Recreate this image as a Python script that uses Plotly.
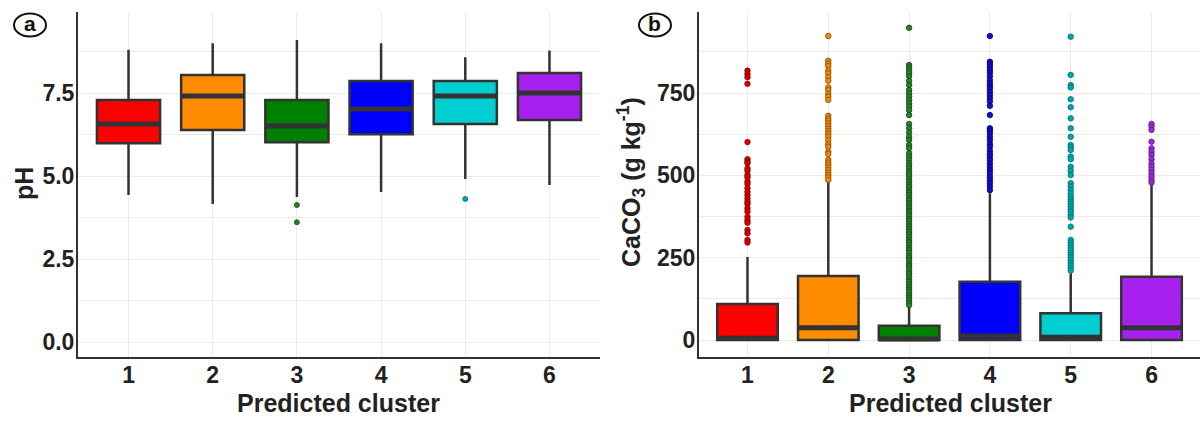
import plotly.graph_objects as go

W, H = 1200, 421

clusters = [1, 2, 3, 4, 5, 6]
colors = ['#FF0000', '#FF8C00', '#008000', '#0000FF', '#00CED1', '#A820F0']
out_edge = ['#8B0000', '#8B4500', '#0B4D0B', '#00008B', '#006B6B', '#5A1A8A']
out_fill = ['#D40000', '#F08A00', '#2E7D2E', '#1010C0', '#00A8AC', '#9A2AD8']

# Panel a: pH
ph_lo = [4.43, 4.16, 4.37, 4.52, 4.91, 4.73]
ph_q1 = [5.99, 6.39, 6.02, 6.26, 6.57, 6.69]
ph_med = [6.57, 7.41, 6.51, 7.02, 7.41, 7.50]
ph_q3 = [7.29, 8.04, 7.29, 7.86, 7.86, 8.10]
ph_hi = [8.80, 9.00, 9.10, 9.00, 8.58, 8.78]
ph_out = {3: [4.13, 3.61], 5: [4.31]}

# Panel b: CaCO3
ca_lo = [0, 0, 0, 0, 0, 0]
ca_q1 = [0, 0, 0, 0, 0, 0]
ca_med = [5, 37, 3, 12, 8, 37]
ca_q3 = [109, 194, 43, 177, 81, 192]
ca_hi = [252, 480, 101, 446, 203, 476]
ca_out1 = [818, 808, 798, 778, 601, 549, 542, 537, 521, 514, 501, 494, 481, 474,
           461, 450, 440, 430, 420, 413, 400, 390, 374, 364, 356, 334, 324, 304, 296]
ca_out2 = [923, 848, 840, 832, 818, 810, 798, 787, 767, 759, 747, 739, 729, 681,
           673, 666, 658, 650, 642, 634, 626, 618, 607, 595, 587, 572, 565, 547,
           539, 532, 524, 516, 508, 501, 494, 486]
ca_out3 = [948, 835, 828, 820, 810, 801, 787, 774, 759, 749, 739, 729, 719, 709,
           698, 683, 656, 643, 630, 617, 607, 592, 582, 567, 557, 547, 536, 529,
           521, 512, 505, 497, 488, 481, 472, 465, 456, 449, 441, 432, 425, 416,
           409, 401, 392, 385, 377, 368, 361, 352, 345, 337, 328, 321, 313, 304,
           297, 289, 280, 273, 265, 256, 249, 241, 232, 225, 217, 208, 201, 193,
           184, 177, 169, 160, 153, 145, 136, 129, 121, 113, 106]
ca_out4 = [923, 845, 838, 830, 820, 812, 801, 789, 779, 771, 764, 754, 744, 734,
           724, 711, 683, 643, 636, 628, 617, 607, 595, 587, 575, 565, 557, 547,
           536, 526, 516, 506, 496, 486, 476, 466, 455]
ca_out5 = [921, 805, 774, 767, 731, 707, 673, 643, 617, 592, 585, 577, 557, 549,
           526, 514, 501, 476, 466, 455, 445, 435, 427, 420, 413, 405, 397, 390,
           380, 372, 344, 304, 296, 288, 281, 273, 265, 258, 251, 243, 235, 227,
           219, 211]
ca_out6 = [656, 648, 638, 602, 582, 572, 562, 549, 536, 526, 516, 506, 496, 486, 478]
ca_out = {1: ca_out1, 2: ca_out2, 3: ca_out3, 4: ca_out4, 5: ca_out5, 6: ca_out6}

ph_ticks = [0, 2.5, 5, 7.5]
ph_ticktext = ['0.0', '2.5', '5.0', '7.5']
ca_ticks = [0, 250, 500, 750]
ca_ticktext = ['0', '250', '500', '750']

BOX_W = 0.75
LINE = '#333333'

fig = go.Figure()


def add_panel(xa, ya, lo, q1, med, q3, hi, outs, out_size):
    for i, c in enumerate(clusters):
        fig.add_trace(go.Box(
            x=[c], lowerfence=[lo[i]], q1=[q1[i]], median=[med[i]], q3=[q3[i]],
            upperfence=[hi[i]], width=BOX_W, whiskerwidth=0,
            fillcolor=colors[i], line=dict(color=LINE, width=2.5),
            boxpoints=False, hoverinfo='skip', showlegend=False,
            xaxis=xa, yaxis=ya))
        fig.add_trace(go.Scatter(
            x=[c - BOX_W / 2, c + BOX_W / 2], y=[med[i], med[i]], mode='lines',
            line=dict(color=LINE, width=5), showlegend=False, hoverinfo='skip',
            xaxis=xa, yaxis=ya))
        if c in outs:
            vals = outs[c]
            fig.add_trace(go.Scatter(
                x=[c] * len(vals), y=vals, mode='markers',
                marker=dict(size=out_size, color=out_fill[i],
                            line=dict(color=out_edge[i], width=0.8)),
                showlegend=False, hoverinfo='skip', xaxis=xa, yaxis=ya))


add_panel('x', 'y', ph_lo, ph_q1, ph_med, ph_q3, ph_hi, ph_out, 5)
add_panel('x2', 'y2', ca_lo, ca_q1, ca_med, ca_q3, ca_hi, ca_out, 5.5)

y_dom = [1 - 357 / H, 1 - 12 / H]
tickfont = dict(family='Liberation Sans, Arial, sans-serif', size=23, color='#222222', weight='bold')
GRID = '#EBEBEB'

xcommon = dict(range=[0.4, 6.6], tickvals=clusters, ticktext=[str(c) for c in clusters],
               showgrid=True, gridcolor=GRID, gridwidth=1, zeroline=False,
               showline=True, linecolor=LINE, linewidth=2, ticks='',
               tickfont=tickfont, ticklabelstandoff=-4)

ycommon = dict(domain=y_dom, showgrid=True, gridcolor=GRID, zeroline=False,
               showline=True, linecolor=LINE, linewidth=2, ticks='',
               tickfont=tickfont, ticklabelstandoff=-3)

fig.update_layout(
    width=W, height=H, margin=dict(l=0, r=0, t=0, b=0),
    paper_bgcolor='white', plot_bgcolor='white', boxmode='overlay',
    xaxis=dict(domain=[78 / W, 600 / W], anchor='y', **xcommon),
    xaxis2=dict(domain=[699 / W, 1.0], anchor='y2', **xcommon),
    yaxis=dict(anchor='x', range=[-0.45, 9.94], tickvals=ph_ticks, ticktext=ph_ticktext,
               minor=dict(tick0=0, dtick=1.25, showgrid=True, gridcolor=GRID, ticks=''),
               **ycommon),
    yaxis2=dict(anchor='x2', range=[-51.6, 996], tickvals=ca_ticks, ticktext=ca_ticktext,
                minor=dict(tick0=0, dtick=125, showgrid=True, gridcolor=GRID, ticks=''),
                **ycommon),
)

titlefont = dict(family='Liberation Sans, Arial, sans-serif', size=25, color='#222222', weight='bold')


def px(x):
    return x / W


def py(y):
    return 1 - y / H


annots = [
    dict(text='Predicted cluster', x=px(339), y=py(403), textangle=0),
    dict(text='Predicted cluster', x=px(950), y=py(403), textangle=0),
    dict(text='pH', x=px(24), y=py(184), textangle=-90),
    dict(text='CaCO<sub>3</sub> (g kg<sup>-1</sup>)', x=px(631), y=py(182), textangle=-90),
]
for a in annots:
    fig.add_annotation(xref='paper', yref='paper', showarrow=False,
                       xanchor='center', yanchor='middle', font=titlefont, **a)

labelfont = dict(family='Liberation Sans, Arial, sans-serif', size=21, color='#111111', weight='bold')
for lab, cx, cy in [('a', 30, 25), ('b', 655, 25)]:
    fig.add_shape(type='circle', xref='paper', yref='paper',
                  x0=px(cx - 16), x1=px(cx + 16), y0=py(cy + 11.5), y1=py(cy - 11.5),
                  line=dict(color='#111111', width=2))
    fig.add_annotation(xref='paper', yref='paper', x=px(cx), y=py(cy - 1), text=lab,
                       showarrow=False, xanchor='center', yanchor='middle', font=labelfont)

fig.write_html('out.html', config={'displayModeBar': False},
               post_script="document.body.style.margin='0';document.body.style.overflow='hidden';")
